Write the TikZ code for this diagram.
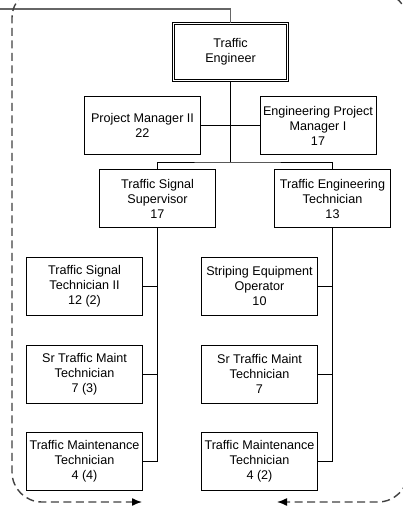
\documentclass[tikz,border=0pt]{standalone}
\usepackage{fontspec}
\setmainfont{Liberation Sans}
\usetikzlibrary{positioning}
\usetikzlibrary{arrows.meta}
\tikzstyle{unitbox}=[rectangle,draw,line width=0.8pt,minimum width=116pt,minimum height=58pt,inner sep=1pt,align=center,font=\fontsize{12.6}{15}\selectfont]
\tikzstyle{headbox}=[unitbox,double,double distance=1.6pt,minimum width=113.8pt,minimum height=57pt]
\tikzstyle{link}=[draw,line width=0.8pt]
\tikzstyle{feedline}=[draw,line width=1.4pt,black!60]
\tikzstyle{loopline}=[draw,line width=1.4pt,black!75,dash pattern=on 8pt off 4.5pt,rounded corners=30pt,-{Latex[length=10pt,width=8pt,black]}]

\begin{document}
\begin{tikzpicture}[x=1pt,y=-1pt]
    \useasboundingbox (0,0) rectangle (402,506);
    % Head of the unit
    \node[headbox] (te) at (230.5,52) {Traffic\\Engineer};

    % Then the other boxes
    \foreach \pos/\name/\label in {{(142.5,125.5)/pm/{Project Manager II\\22}}, {(318,125.5)/epm/{Engineering Project\\Manager I\\17}},
        {(157.5,198.5)/tss/{Traffic Signal\\Supervisor\\17}}, {(332.5,198.5)/tet/{Traffic Engineering\\Technician\\13}},
        {(84.5,286)/tst/{Traffic Signal\\Technician II\\12 (2)}}, {(259.5,286)/seo/{Striping Equipment\\Operator\\10}},
        {(84.5,374)/stmL/{Sr Traffic Maint\\Technician\\7 (3)}}, {(259.5,374)/stmR/{Sr Traffic Maint\\Technician\\7}},
        {(84.5,461.5)/tmtL/{Traffic Maintenance\\Technician\\4 (4)}}, {(259.5,461.5)/tmtR/{Traffic Maintenance\\Technician\\4 (2)}}}
        \node[unitbox] (\name) at \pos {\label};

    % Connect the boxes
    \coordinate (feed) at (-5,9);
    \coordinate (bus) at (230.5,162);
    \path[feedline] (feed) -| (te.north);
    \path[link] (te.south) -- (bus);
    \path[link] (pm.east) -- (epm.west);
    \path[link] (tss.north) |- (bus) -| (tet.north);
    \path[link] (tss.south) |- (tmtL.east);
    \path[link] (tet.south) |- (tmtR.east);
    \foreach \source/\dest in {tst/tss, stmL/tss, seo/tet, stmR/tet}
        \path[link] (\source.east) -- (\source.east -| \dest.south);

    % Dashed loop round the unit
    \coordinate (loopA) at (60,-12);
    \coordinate (loopB) at (142,502);
    \coordinate (loopC) at (360,-8);
    \coordinate (loopD) at (277,502);
    \path[loopline] (loopA) -- (12,-12) -- (12,502) -- (loopB);
    \path[loopline] (loopC) -- (408,-8) -- (408,502) -- (loopD);
\end{tikzpicture}
\end{document}
